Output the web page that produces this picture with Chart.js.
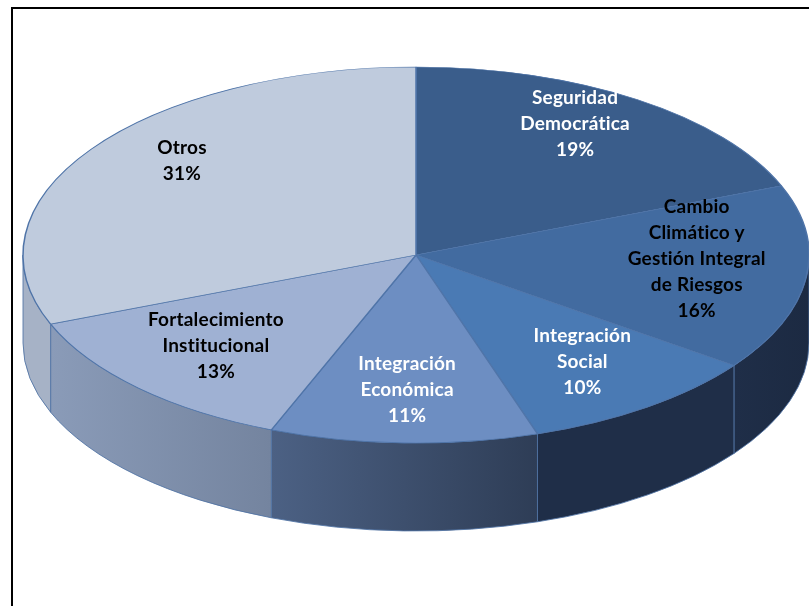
<!DOCTYPE html>
<html>
<head>
<meta charset="utf-8">
<script src="https://cdn.jsdelivr.net/npm/chart.js@4"></script>
<style>
  body { margin: 0; background: #ffffff; }
  #caixa { width: 809px; height: 606px; position: relative; }
</style>
</head>
<body>
<div id="caixa"><canvas id="grafico_pizza"></canvas></div>
<script>
// dados da pizza (em %)
const categorias = [
  'Seguridad Democrática',
  'Cambio Climático y Gestión Integral de Riesgos',
  'Integración Social',
  'Integración Económica',
  'Fortalecimiento Institucional',
  'Otros'
];
const porcentajes = [19, 16, 10, 11, 13, 31];

// texto de cada fatia, quebrado em linhas como no original
const linhas_rotulo = [
  ['Seguridad', 'Democrática'],
  ['Cambio', 'Climático y', 'Gestión Integral', 'de Riesgos'],
  ['Integración', 'Social'],
  ['Integración', 'Económica'],
  ['Fortalecimiento', 'Institucional'],
  ['Otros']
];

const cores_topo = ['#3a5d8b', '#426ba0', '#4a7ab4', '#6d8ec2', '#9fb1d3', '#bfcbdd'];
const cores_lado = [
  ['#1f2e48', '#1f2e48'],
  ['#1f2e48', '#1c2a42'],
  ['#1f2e48', '#1f2e48'],
  ['#4c6184', '#2e3d56'],
  ['#8a9bb8', '#74849f'],
  ['#a6b2c6', '#a6b2c6']
];
const cores_texto = ['#ffffff', '#000000', '#ffffff', '#ffffff', '#000000', '#000000'];

// geometria da elipse
const CENTRO_Y = 255;
const RAIO_Y = 188;
const PROFUNDIDADE = 88;

const moldura = {
  id: 'moldura',
  beforeDraw: (chart) => {
    const {ctx} = chart;
    ctx.save();
    ctx.fillStyle = '#000000';
    ctx.fillRect(11, 7, 809, 2);
    ctx.fillRect(11, 7, 2, 606);
    ctx.restore();
  }
};

const pizza3d = {
  id: 'pizza3d',
  beforeDatasetsDraw: (chart) => {
    const {ctx} = chart;
    const arcos = chart.getDatasetMeta(0).data;
    const cx = arcos[0].x;
    const rx = arcos[0].outerRadius;

    // parede lateral (só a metade da frente aparece)
    arcos.forEach((arco, i) => {
      const a0 = Math.max(arco.startAngle, 0);
      const a1 = Math.min(arco.endAngle, Math.PI);
      if (a0 >= a1) return;
      const xa = cx + rx * Math.cos(a0);
      const xb = cx + rx * Math.cos(a1);
      const grad = ctx.createLinearGradient(Math.min(xa, xb), 0, Math.max(xa, xb), 0);
      grad.addColorStop(0, cores_lado[i][0]);
      grad.addColorStop(1, cores_lado[i][1]);
      ctx.save();
      ctx.beginPath();
      ctx.ellipse(cx, CENTRO_Y, rx, RAIO_Y, 0, a0, a1, false);
      ctx.ellipse(cx, CENTRO_Y + PROFUNDIDADE, rx, RAIO_Y, 0, a1, a0, true);
      ctx.closePath();
      ctx.fillStyle = grad;
      ctx.fill();
      ctx.lineWidth = 1;
      ctx.strokeStyle = 'rgba(80,115,165,0.85)';
      ctx.stroke();
      ctx.restore();
    });

    // achata o desenho da biblioteca para virar elipse
    ctx.save();
    ctx.translate(0, CENTRO_Y);
    ctx.scale(1, RAIO_Y / rx);
    ctx.translate(0, -arcos[0].y);
  },
  afterDatasetsDraw: (chart) => {
    const {ctx} = chart;
    ctx.restore();

    const arcos = chart.getDatasetMeta(0).data;
    const cx = arcos[0].x;
    const rx = arcos[0].outerRadius;
    const alt_linha = 26;
    ctx.save();
    ctx.font = 'bold 19px Lato';
    ctx.letterSpacing = '0.2px';
    ctx.textAlign = 'center';
    ctx.textBaseline = 'middle';
    arcos.forEach((arco, i) => {
      const meio = (arco.startAngle + arco.endAngle) / 2;
      const s = Math.sin(meio);
      // a frente parece maior por causa da perspectiva
      const fy = s > 0 ? 0.8 : 0.75;
      const x = cx + 0.72 * rx * Math.cos(meio);
      const y = 240 + fy * RAIO_Y * s;
      const linhas = linhas_rotulo[i].concat([porcentajes[i] + '%']);
      const y0 = y - (linhas.length - 1) * alt_linha / 2;
      ctx.fillStyle = cores_texto[i];
      linhas.forEach((t, j) => ctx.fillText(t, x, y0 + j * alt_linha));
    });
    ctx.restore();
  }
};

const grafico = new Chart(document.getElementById('grafico_pizza'), {
  type: 'pie',
  data: {
    labels: categorias,
    datasets: [{
      data: porcentajes,
      backgroundColor: cores_topo,
      borderColor: '#4f74a8',
      borderWidth: 1.5,
      clip: false
    }]
  },
  options: {
    responsive: true,
    maintainAspectRatio: false,
    animation: false,
    radius: 393,
    layout: { padding: { left: 23, right: 0, top: 0, bottom: 0 } },
    plugins: {
      legend: { display: false },
      tooltip: { enabled: false }
    }
  },
  plugins: [moldura, pizza3d]
});
</script>
</body>
</html>
